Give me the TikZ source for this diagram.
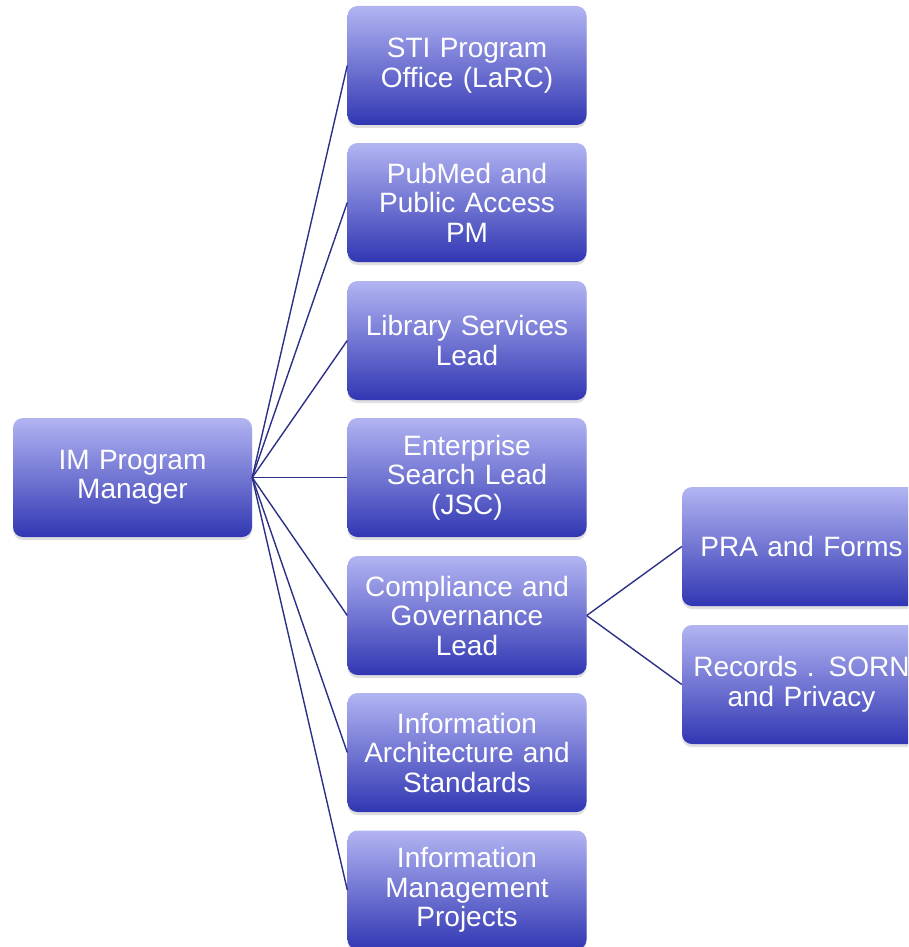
\documentclass[tikz,border=0pt]{standalone}
\usepackage{fontspec}
\setmainfont{Liberation Sans}
\usetikzlibrary{shadows}
\definecolor{boxtop}{HTML}{B2B4F2}
\definecolor{boxbot}{HTML}{3137B3}
\definecolor{linkcol}{HTML}{2C3087}
\tikzset{
  orgbox/.style={rectangle, rounded corners=10pt, minimum width=239pt, minimum height=119pt,
    text width=225pt, align=center, inner sep=0pt, text=white,
    top color=boxtop, bottom color=boxbot, draw=none,
    font=\fontsize{28}{29.5}\selectfont,
    drop shadow={opacity=0.25, shadow xshift=0pt, shadow yshift=-3pt}},
  link/.style={draw=linkcol, line width=1.4pt}
}
\begin{document}
\begin{tikzpicture}[x=1pt,y=-1pt]
\useasboundingbox (0,0) rectangle (908,947);
\clip (0,0) rectangle (908,947);
\node[orgbox] (root) at (132.5,477.5) {IM Program\\Manager};
\node[orgbox] (c1) at (467,65.5) {STI Program\\Office (LaRC)};
\node[orgbox] (c2) at (467,202.5) {PubMed and\\Public Access\\PM};
\node[orgbox] (c3) at (467,340.5) {Library Services\\Lead};
\node[orgbox] (c4) at (467,477.5) {Enterprise\\Search Lead\\(JSC)};
\node[orgbox] (c5) at (467,615.5) {Compliance and\\Governance\\Lead};
\node[orgbox] (c6) at (467,752.5) {Information\\Architecture and\\Standards};
\node[orgbox] (c7) at (467,890) {Information\\Management\\Projects};
\node[orgbox] (g1) at (801.5,546.5) {PRA and Forms};
\node[orgbox] (g2) at (801.5,684.5) {Records . SORN\\and Privacy};
\foreach \c in {c1,c2,c3,c4,c5,c6,c7}
  \draw[link] (root.east) -- (\c.west);
\draw[link] (c5.east) -- (g1.west);
\draw[link] (c5.east) -- (g2.west);
\end{tikzpicture}
\end{document}
